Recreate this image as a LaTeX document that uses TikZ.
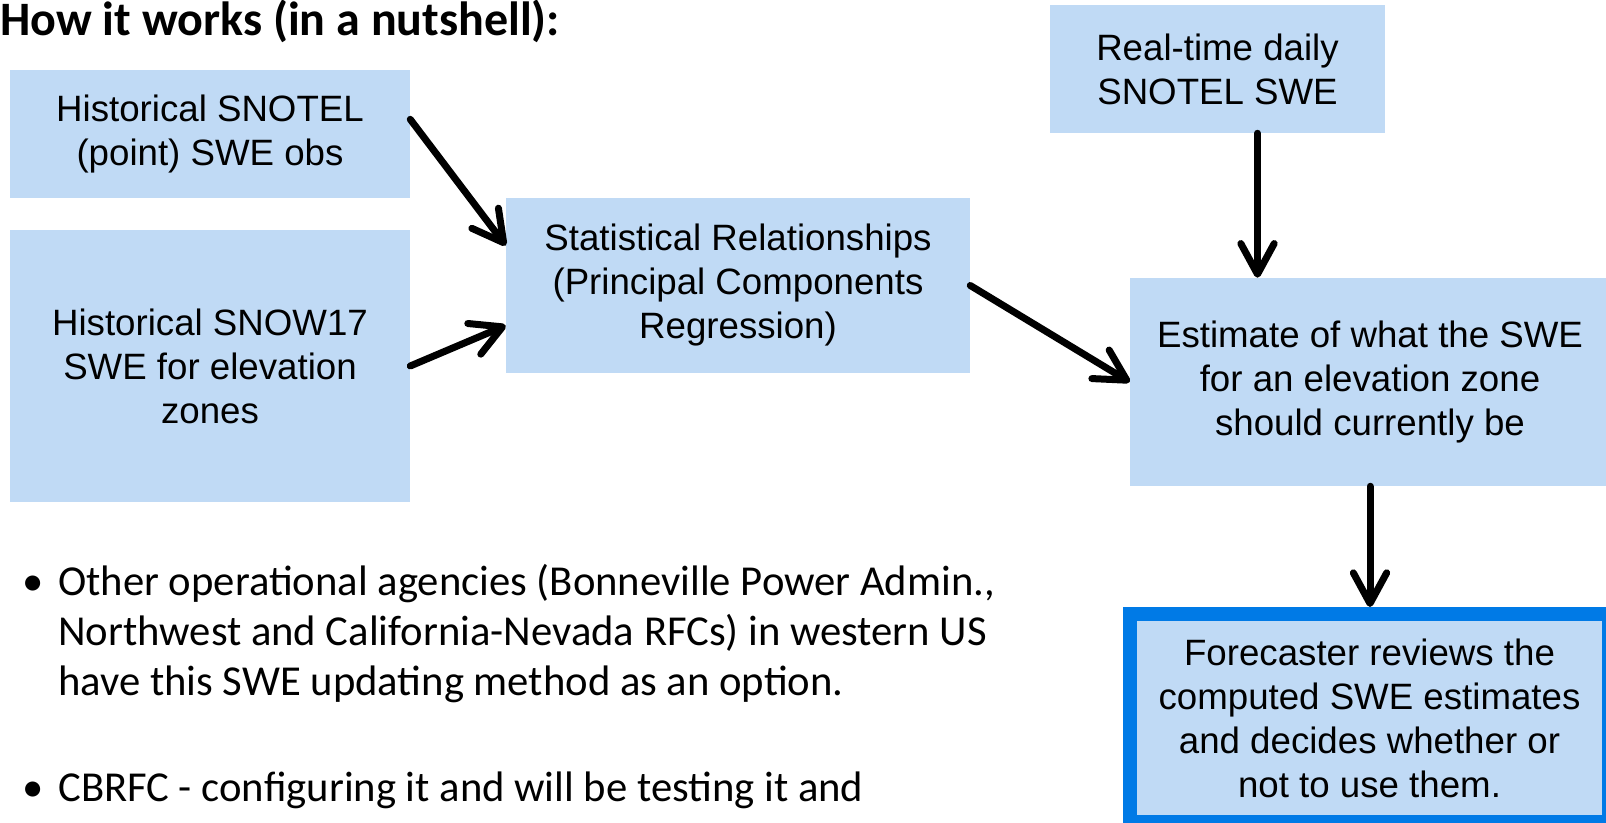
\documentclass[tikz,border=0pt]{standalone}
\usepackage{fontspec}
\setmainfont{Liberation Sans}
\newfontfamily\calfont{Carlito}
\usetikzlibrary{arrows.meta}
\definecolor{boxblue}{RGB}{192,218,245}
\definecolor{edgeblue}{RGB}{0,122,230}
\begin{document}
\begin{tikzpicture}[x=0.75pt,y=-0.75pt,>={Straight Barb[round,length=23pt,width=25pt]},
	box/.style={fill=boxblue,inner sep=0pt,align=center,font=\fontsize{27.5}{33}\selectfont},
	arr/.style={->,line width=5.25pt,line cap=round,line join=round},
	bul/.style={anchor=base west,inner sep=0pt,align=left,font=\calfont\fontsize{32}{37.5}\selectfont}]
	\useasboundingbox (0,0) rectangle (1606,823);
	\node[anchor=base west,inner sep=0pt,font=\calfont\bfseries\fontsize{36}{40}\selectfont] (title) at (0,36) {How it works (in a nutshell):};
	\node[box,minimum width=300pt,minimum height=96pt] (hist) at (210,134) {Historical SNOTEL\\(point) SWE obs};
	\node[box,minimum width=300pt,minimum height=204pt] (snow) at (210,366) {Historical SNOW17\\SWE for elevation\\zones};
	\node[box,minimum width=348pt,minimum height=131.25pt] (stat) at (738,285.5) {Statistical Relationships\\(Principal Components\\Regression)};
	\node[box,minimum width=251.25pt,minimum height=96pt] (rt) at (1217.5,69) {Real-time daily\\SNOTEL SWE};
	\node[box,minimum width=360pt,minimum height=156pt] (est) at (1370,382) {Estimate of what the SWE\\for an elevation zone\\should currently be};
	\node[box,draw=edgeblue,line width=10.5pt,minimum width=359.25pt,minimum height=156pt] (fc) at (1369.5,718) {Forecaster reviews the\\computed SWE estimates\\and decides whether or\\not to use them.};
	\draw[arr] ([yshift=11pt]hist.east) -- ([yshift=30pt]stat.west);
	\draw[arr] (snow.east) -- ([yshift=-30pt]stat.west);
	\draw[arr] (stat.east) -- (est.west);
	\draw[arr] ([xshift=30pt]rt.south) -- ([xshift=30pt]rt.south |- est.north);
	\draw[arr] (est.south) -- (est.south |- fc.north);
	\node[bul] (dot1) at (22,595) {•};
	\node[bul] (pt1) at (58,695) {Other operational agencies (Bonneville Power Admin.,\\Northwest and California-Nevada RFCs) in western US\\have this SWE updating method as an option.};
	\node[bul] (dot2) at (22,801) {•};
	\node[bul] (pt2) at (58,801) {CBRFC - configuring it and will be testing it and};
\end{tikzpicture}
\end{document}
